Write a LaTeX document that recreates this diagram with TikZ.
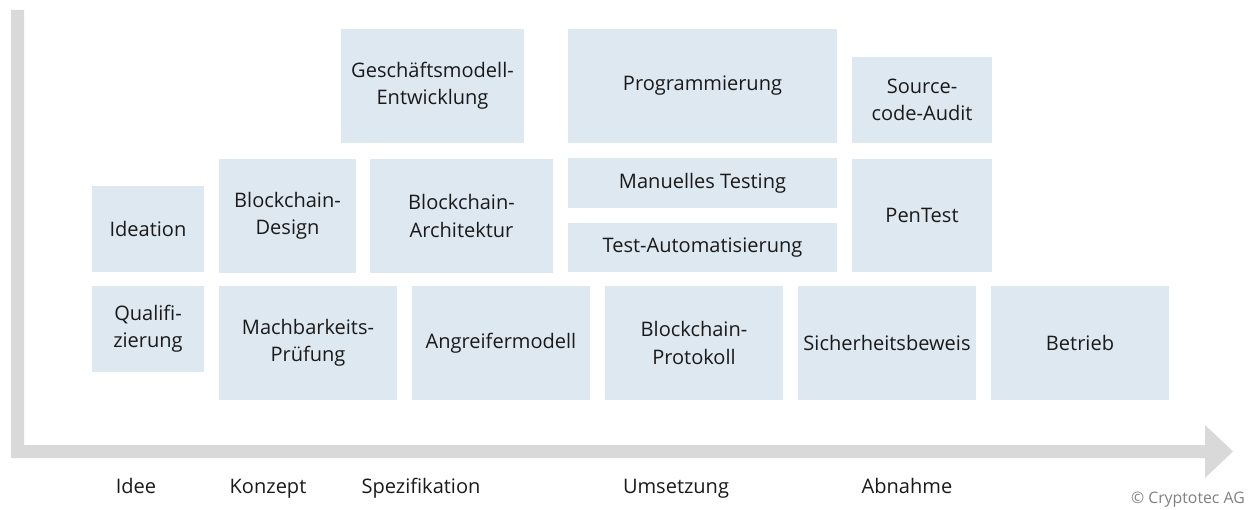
\documentclass[tikz,border=0pt]{standalone}
\usepackage{fontspec}
\setmainfont{Open Sans}
\definecolor{boxfill}{HTML}{DEE8F1}
\definecolor{axisgray}{HTML}{D9D9D9}
\definecolor{textdark}{HTML}{1A1A1A}

\begin{document}
\begin{tikzpicture}[x=0.02cm, y=-0.02cm,
    box/.style 2 args = {fill=boxfill, inner sep=0pt, align=center,
        minimum width=#1cm, minimum height=#2cm,
        font=\fontsize{11.4}{15.4}\selectfont, text=textdark},
    phase/.style = {anchor=base, font=\fontsize{11.4}{15.4}\selectfont,
        text=textdark}]

\useasboundingbox (0,0) rectangle (1251,510);

% Time axis
\fill[axisgray] (11,10) -- (24,10) -- (24,445) -- (1205,445) -- (1205,425)
    -- (1233,451.5) -- (1205,478) -- (1205,458) -- (11,458) -- cycle;

% Idee
\node[box={2.24}{1.72}] (ideation) at (148,229) {Ideation};
\node[box={2.24}{1.72}] (qualifizierung) at (148,329) {Qualifi-\\zierung};

% Konzept
\node[box={2.74}{2.28}] (design) at (287.5,216) {Blockchain-\\Design};
\node[box={3.56}{2.28}] (machbarkeit) at (308,343) {Machbarkeits-\\Prüfung};

% Spezifikation
\node[box={3.66}{2.28}] (geschaeft) at (432.5,86) {Geschäftsmodell-\\Entwicklung};
\node[box={3.66}{2.28}] (architektur) at (461.5,216) {Blockchain-\\Architektur};
\node[box={3.56}{2.28}] (angreifer) at (501,343) {Angreifermodell};

% Umsetzung
\node[box={5.38}{2.28}] (programmierung) at (702.5,86) {Programmierung};
\node[box={5.38}{1.0}] (manuell) at (702.5,183) {Manuelles Testing};
\node[box={5.38}{0.98}] (automatisierung) at (702.5,247.5) {Test-Automatisierung};
\node[box={3.56}{2.28}] (protokoll) at (694,343) {Blockchain-\\Protokoll};

% Abnahme
\node[box={2.8}{1.72}] (audit) at (922,100) {Source-\\code-Audit};
\node[box={2.8}{2.26}] (pentest) at (922,215.5) {PenTest};
\node[box={3.56}{2.28}] (beweis) at (887,343) {Sicherheitsbeweis};
\node[box={3.56}{2.28}] (betrieb) at (1080,343) {Betrieb};

% Phase labels
\node[phase] (idee) at (136,493) {Idee};
\node[phase] (konzept) at (268,493) {Konzept};
\node[phase] (spezifikation) at (421,493) {Spezifikation};
\node[phase] (umsetzung) at (676,493) {Umsetzung};
\node[phase] (abnahme) at (907,493) {Abnahme};

% Copyright
\node[anchor=base east, font=\fontsize{9}{11}\selectfont, text=gray]
    (copyright) at (1251,503) {© Cryptotec AG};
\end{tikzpicture}
\end{document}
